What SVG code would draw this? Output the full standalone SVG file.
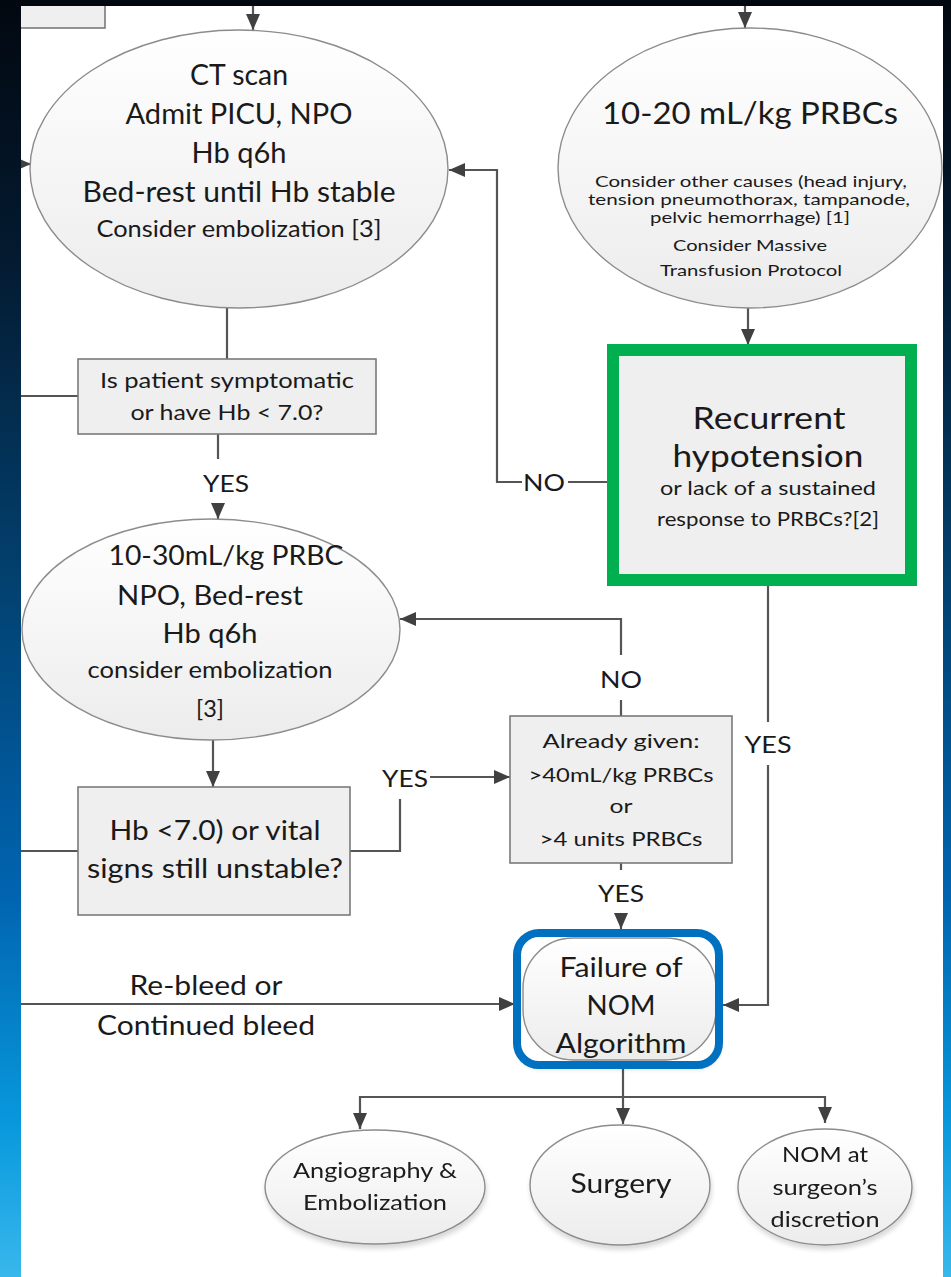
<svg xmlns="http://www.w3.org/2000/svg" width="951" height="1277" viewBox="0 0 951 1277">
  <defs>
    <linearGradient id="frameGrad" x1="0" y1="0" x2="0" y2="1">
      <stop offset="0" stop-color="#020810"/>
      <stop offset="0.2" stop-color="#041a30"/>
      <stop offset="0.45" stop-color="#02406e"/>
      <stop offset="0.7" stop-color="#0064b0"/>
      <stop offset="0.88" stop-color="#0898dc"/>
      <stop offset="1" stop-color="#38b8ec"/>
    </linearGradient>
    <linearGradient id="ovalGrad" x1="0" y1="0" x2="0" y2="1">
      <stop offset="0" stop-color="#ffffff"/>
      <stop offset="1" stop-color="#ececec"/>
    </linearGradient>
    <filter id="shadow" x="-10%" y="-10%" width="130%" height="130%">
      <feGaussianBlur in="SourceAlpha" stdDeviation="2.5"/>
      <feOffset dx="1" dy="4" result="b"/>
      <feComponentTransfer><feFuncA type="linear" slope="0.16"/></feComponentTransfer>
      <feMerge><feMergeNode/><feMergeNode in="SourceGraphic"/></feMerge>
    </filter>
    <marker id="arrow" viewBox="0 0 16 14" refX="16" refY="7" markerWidth="16" markerHeight="14" markerUnits="userSpaceOnUse" orient="auto">
      <path d="M0,0 L16,7 L0,14 z" fill="#404040"/>
    </marker>
  </defs>
  <style>
    text { font-family: Lato, "Open Sans", "Liberation Sans", sans-serif; fill: #1a1a1a; text-anchor: middle; }
    .oval { fill: url(#ovalGrad); stroke: #8c8c8c; stroke-width: 1.4; }
    .box { fill: #efefef; stroke: #7a7a7a; stroke-width: 1.6; }
    .wire { fill: none; stroke: #555555; stroke-width: 2.2; }
    .lbl { font-size: 24px; }
  </style>

  <!-- page -->
  <rect x="0" y="0" width="951" height="1277" fill="#ffffff"/>

  <!-- connectors -->
  <g id="connectors">
    <path class="wire" d="M253,0 V30" marker-end="url(#arrow)"/>
    <path class="wire" d="M745,0 V28" marker-end="url(#arrow)"/>
    <path class="wire" d="M0,164 H31" marker-end="url(#arrow)"/>
    <path class="wire" d="M227,308 V359"/>
    <path class="wire" d="M0,396 H78"/>
    <path class="wire" d="M218,434 V459"/>
    <path class="wire" d="M218,503 V519" marker-end="url(#arrow)"/>
    <path class="wire" d="M748,308 V345" marker-end="url(#arrow)"/>
    <path class="wire" d="M607,482 H568"/>
    <path class="wire" d="M522,482 H497 V170 H449" marker-end="url(#arrow)"/>
    <path class="wire" d="M768,586 V722"/>
    <path class="wire" d="M768,765 V1005 H723" marker-end="url(#arrow)"/>
    <path class="wire" d="M621,716 V700"/>
    <path class="wire" d="M621,655 V619 H400" marker-end="url(#arrow)"/>
    <path class="wire" d="M213,740 V787" marker-end="url(#arrow)"/>
    <path class="wire" d="M0,851 H78"/>
    <path class="wire" d="M350,851 H400 V799"/>
    <path class="wire" d="M430,777 H510" marker-end="url(#arrow)"/>
    <path class="wire" d="M621,863 V870"/>
    <path class="wire" d="M621,913 V929" marker-end="url(#arrow)"/>
    <path class="wire" d="M0,1004 H515" marker-end="url(#arrow)"/>
    <path class="wire" d="M623,1069 V1124" marker-end="url(#arrow)"/>
    <path class="wire" d="M360,1129 V1097 H825 V1123" marker-end="url(#arrow)"/>
    <path class="wire" d="M360,1112 V1129" marker-end="url(#arrow)"/>
  </g>

  <!-- edge labels -->
  <g id="edge-labels">
    <text class="lbl" x="226" y="492" textLength="46" lengthAdjust="spacingAndGlyphs">YES</text>
    <text class="lbl" x="544" y="491" textLength="42" lengthAdjust="spacingAndGlyphs">NO</text>
    <text class="lbl" x="621" y="688" textLength="42" lengthAdjust="spacingAndGlyphs">NO</text>
    <text class="lbl" x="768" y="753" textLength="47" lengthAdjust="spacingAndGlyphs">YES</text>
    <text class="lbl" x="405" y="787" textLength="46" lengthAdjust="spacingAndGlyphs">YES</text>
    <text class="lbl" x="621" y="902" textLength="46" lengthAdjust="spacingAndGlyphs">YES</text>
    <text style="font-size:26px" x="206" y="995" textLength="153" lengthAdjust="spacingAndGlyphs">Re-bleed or</text>
    <text style="font-size:26px" x="206" y="1035" textLength="218" lengthAdjust="spacingAndGlyphs">Continued bleed</text>
  </g>

  <!-- partial box at the top left -->
  <g id="prev-box">
    <rect class="box" x="10" y="-4" width="95" height="32"/>
  </g>

  <g id="ct-scan">
    <ellipse class="oval" cx="239" cy="169" rx="209" ry="139"/>
    <text style="font-size:28px" x="239" y="85" textLength="98" lengthAdjust="spacingAndGlyphs">CT scan</text>
    <text style="font-size:28px" x="239" y="124" textLength="227" lengthAdjust="spacingAndGlyphs">Admit PICU, NPO</text>
    <text style="font-size:28px" x="239" y="163" textLength="95" lengthAdjust="spacingAndGlyphs">Hb q6h</text>
    <text style="font-size:28px" x="239" y="202" textLength="313" lengthAdjust="spacingAndGlyphs">Bed-rest until Hb stable</text>
    <text style="font-size:23px" x="239" y="237" textLength="285" lengthAdjust="spacingAndGlyphs">Consider embolization [3]</text>
  </g>

  <g id="prbc-10-20">
    <ellipse class="oval" cx="750" cy="168" rx="192" ry="140"/>
    <text style="font-size:31px" x="750" y="124" textLength="296" lengthAdjust="spacingAndGlyphs">10-20 mL/kg PRBCs</text>
    <text style="font-size:15px" x="751" y="187" textLength="312" lengthAdjust="spacingAndGlyphs">Consider other causes (head injury,</text>
    <text style="font-size:15px" x="749" y="205" textLength="322" lengthAdjust="spacingAndGlyphs">tension pneumothorax, tampanode,</text>
    <text style="font-size:15px" x="750" y="223" textLength="200" lengthAdjust="spacingAndGlyphs">pelvic hemorrhage) [1]</text>
    <text style="font-size:16px" x="750" y="251" textLength="154" lengthAdjust="spacingAndGlyphs">Consider Massive</text>
    <text style="font-size:16px" x="751" y="276" textLength="182" lengthAdjust="spacingAndGlyphs">Transfusion Protocol</text>
  </g>

  <g id="symptomatic">
    <rect class="box" x="78" y="359" width="298" height="75"/>
    <text style="font-size:21px" x="227" y="388" textLength="254" lengthAdjust="spacingAndGlyphs">Is patient symptomatic</text>
    <text style="font-size:21px" x="227" y="420" textLength="193" lengthAdjust="spacingAndGlyphs">or have Hb &lt; 7.0?</text>
  </g>

  <g id="recurrent-hypotension">
    <rect x="613" y="350" width="298" height="230" fill="#efefef" stroke="#9a9a9a" stroke-width="1.5"/>
    <rect x="613" y="350" width="298" height="230" fill="none" stroke="#00b050" stroke-width="12"/>
    <text style="font-size:30px" x="769" y="429" textLength="153" lengthAdjust="spacingAndGlyphs">Recurrent</text>
    <text style="font-size:30px" x="768" y="467" textLength="191" lengthAdjust="spacingAndGlyphs">hypotension</text>
    <text style="font-size:19px" x="768" y="495" textLength="216" lengthAdjust="spacingAndGlyphs">or lack of a  sustained</text>
    <text style="font-size:19px" x="768" y="526" textLength="222" lengthAdjust="spacingAndGlyphs">response to PRBCs?[2]</text>
  </g>

  <g id="prbc-10-30">
    <ellipse class="oval" cx="211" cy="629.5" rx="189" ry="110.5"/>
    <text style="font-size:27px" x="226" y="565" textLength="235" lengthAdjust="spacingAndGlyphs">10-30mL/kg PRBC</text>
    <text style="font-size:27px" x="210" y="605" textLength="186" lengthAdjust="spacingAndGlyphs">NPO, Bed-rest</text>
    <text style="font-size:27px" x="210" y="643" textLength="95" lengthAdjust="spacingAndGlyphs">Hb q6h</text>
    <text style="font-size:23px" x="210" y="678" textLength="245" lengthAdjust="spacingAndGlyphs">consider embolization</text>
    <text style="font-size:23px" x="210" y="717" textLength="28" lengthAdjust="spacingAndGlyphs">[3]</text>
  </g>

  <g id="still-unstable">
    <rect class="box" x="78" y="787" width="272" height="128"/>
    <text style="font-size:27px" x="215" y="840" textLength="211" lengthAdjust="spacingAndGlyphs">Hb &lt;7.0) or vital</text>
    <text style="font-size:27px" x="215" y="878" textLength="256" lengthAdjust="spacingAndGlyphs">signs still unstable?</text>
  </g>

  <g id="already-given">
    <rect class="box" x="510" y="716" width="222" height="147"/>
    <text style="font-size:20px" x="621" y="748" textLength="157" lengthAdjust="spacingAndGlyphs">Already given:</text>
    <text style="font-size:20px" x="621" y="782" textLength="185" lengthAdjust="spacingAndGlyphs">&gt;40mL/kg PRBCs</text>
    <text style="font-size:20px" x="621" y="813" textLength="23" lengthAdjust="spacingAndGlyphs">or</text>
    <text style="font-size:20px" x="621" y="846" textLength="163" lengthAdjust="spacingAndGlyphs">&gt;4 units PRBCs</text>
  </g>

  <g id="nom-failure">
    <rect x="517" y="933" width="202" height="132" rx="22" fill="#ffffff" filter="url(#shadow)"/>
    <rect class="oval" x="523" y="938" width="193" height="122" rx="50"/>
    <rect x="517" y="933" width="202" height="132" rx="22" fill="none" stroke="#0070c0" stroke-width="8"/>
    <text style="font-size:27px" x="621" y="977" textLength="123" lengthAdjust="spacingAndGlyphs">Failure of</text>
    <text style="font-size:27px" x="621" y="1015" textLength="69" lengthAdjust="spacingAndGlyphs">NOM</text>
    <text style="font-size:27px" x="621" y="1053" textLength="131" lengthAdjust="spacingAndGlyphs">Algorithm</text>
  </g>

  <g id="angiography" filter="url(#shadow)">
    <ellipse class="oval" cx="375" cy="1187" rx="110" ry="57"/>
    <text style="font-size:21px" x="375" y="1178" textLength="164" lengthAdjust="spacingAndGlyphs">Angiography &amp;</text>
    <text style="font-size:21px" x="375" y="1210" textLength="144" lengthAdjust="spacingAndGlyphs">Embolization</text>
  </g>

  <g id="surgery" filter="url(#shadow)">
    <ellipse class="oval" cx="620" cy="1185" rx="90" ry="60"/>
    <text style="font-size:27px" x="621" y="1193" textLength="101" lengthAdjust="spacingAndGlyphs">Surgery</text>
  </g>

  <g id="nom-discretion" filter="url(#shadow)">
    <ellipse class="oval" cx="825" cy="1187" rx="87" ry="58"/>
    <text style="font-size:21px" x="825" y="1162" textLength="86" lengthAdjust="spacingAndGlyphs">NOM at</text>
    <text style="font-size:21px" x="825" y="1195" textLength="105" lengthAdjust="spacingAndGlyphs">surgeon’s</text>
    <text style="font-size:21px" x="825" y="1227" textLength="109" lengthAdjust="spacingAndGlyphs">discretion</text>
  </g>

  <!-- dark slide frame around the page -->
  <g id="frame">
    <rect x="0" y="0" width="21" height="1277" fill="url(#frameGrad)"/>
    <rect x="943" y="0" width="8" height="1277" fill="url(#frameGrad)"/>
    <rect x="0" y="0" width="951" height="6" fill="#020810"/>
  </g>
</svg>
